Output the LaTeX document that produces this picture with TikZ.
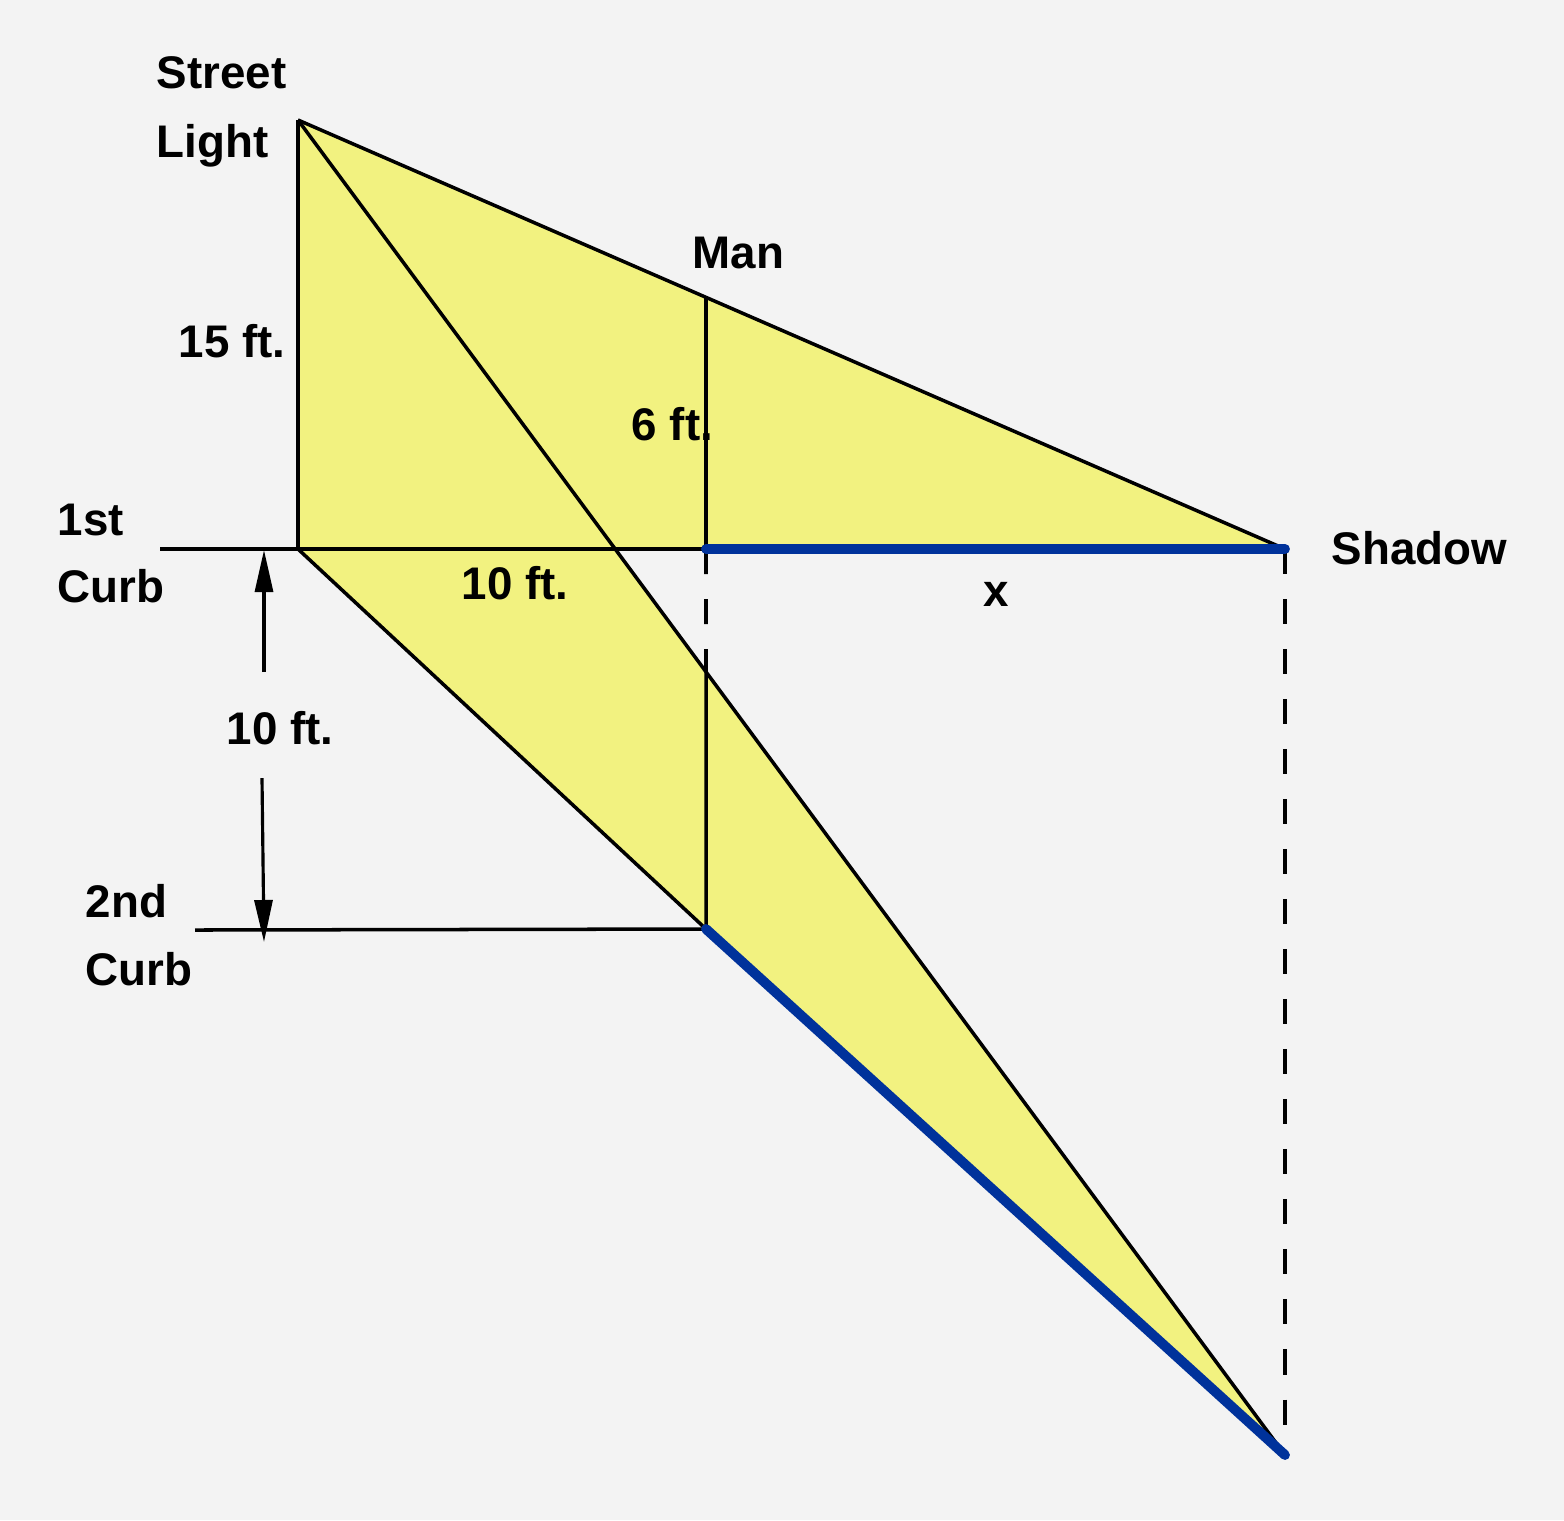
\documentclass[tikz,border=0pt]{standalone}
\usepackage{fontspec}
\setmainfont{Liberation Sans}
\usetikzlibrary{arrows.meta,calc,positioning}
\definecolor{lampyellow}{RGB}{242,242,128}
\definecolor{shadowblue}{RGB}{0,50,155}
\definecolor{paper}{RGB}{243,243,243}

\begin{document}
\begin{tikzpicture}[x=0.01cm,y=-0.01cm,
		lbl/.style={font=\bfseries\fontsize{13}{19.6}\selectfont, inner sep=0pt, anchor=base west},
		edge/.style={draw, line width=1pt},
		shadowline/.style={draw=shadowblue, line width=2.8pt, line cap=round},
		guide/.style={draw, line width=1.1pt, dash pattern=on 0.25cm off 0.25cm},
		dim/.style={draw, line width=0.9pt, -{Triangle[length=0.42cm,width=0.18cm]}}]
	\fill[paper] (0,0) rectangle (1564,1520);
	\useasboundingbox (0,0) rectangle (1564,1520);
	% points of the scene
	\coordinate (light) at (298,120);
	\coordinate (base) at (298,549);
	\coordinate (mantop) at (706,298);
	\coordinate (manfoot) at (706,549);
	\coordinate (tip) at (1285,549);
	\coordinate (curbtwo) at (706,929);
	\coordinate (tiplow) at (1285,1455);
	\coordinate (cross) at ($(light)!0.3213!(tiplow)$);
	\coordinate (crossman) at ($(light)!0.4134!(tiplow)$);
	\coordinate (curbonestart) at (160,549);
	\coordinate (curbtwostart) at (195,930);
	% lit area
	\fill[lampyellow] (light) -- (tip) -- (cross) -- (tiplow) -- (curbtwo) -- (base) -- cycle;
	% curbs
	\draw[edge] (curbonestart) -- (manfoot);
	\draw[edge] (curbtwostart) -- (curbtwo);
	% light, man and rays
	\draw[edge] (light) -- (base);
	\draw[edge] (mantop) -- (manfoot);
	\draw[edge] (light) -- (tip);
	\draw[edge] (light) -- (tiplow);
	\draw[edge] (base) -- (curbtwo);
	\draw[edge] (crossman) -- (curbtwo);
	\draw[guide] (manfoot) -- (crossman);
	\draw[guide] (tip) -- (tiplow);
	% shadows
	\draw[shadowline] (manfoot) -- (tip);
	\draw[shadowline] (curbtwo) -- (tiplow);
	% curb distance
	\coordinate (dimup) at (264,672);
	\coordinate (dimupend) at (264,550);
	\coordinate (dimdown) at (262,778);
	\coordinate (dimdownend) at (264,942);
	\draw[dim] (dimup) -- (dimupend);
	\draw[dim] (dimdown) -- (dimdownend);
	% labels
	\node[lbl] (streetlbl) at (156,88) {Street};
	\node[lbl] (lightlbl) at (156,157) {Light};
	\node[lbl] (manlbl) at (692,268) {Man};
	\node[lbl] (polelbl) at (178,357) {15 ft.};
	\node[lbl] (heightlbl) at (631,440) {6 ft.};
	\node[lbl] (firstlbl) at (57,535) {1st};
	\node[lbl] (firstcurblbl) at (57,602) {Curb};
	\node[lbl] (distlbl) at (461,599) {10 ft.};
	\node[lbl] (xlbl) at (983,606) {x};
	\node[lbl] (shadowlbl) at (1331,564) {Shadow};
	\node[lbl] (curbdistlbl) at (226,744) {10 ft.};
	\node[lbl] (secondlbl) at (85,917) {2nd};
	\node[lbl] (secondcurblbl) at (85,985) {Curb};
\end{tikzpicture}
\end{document}
